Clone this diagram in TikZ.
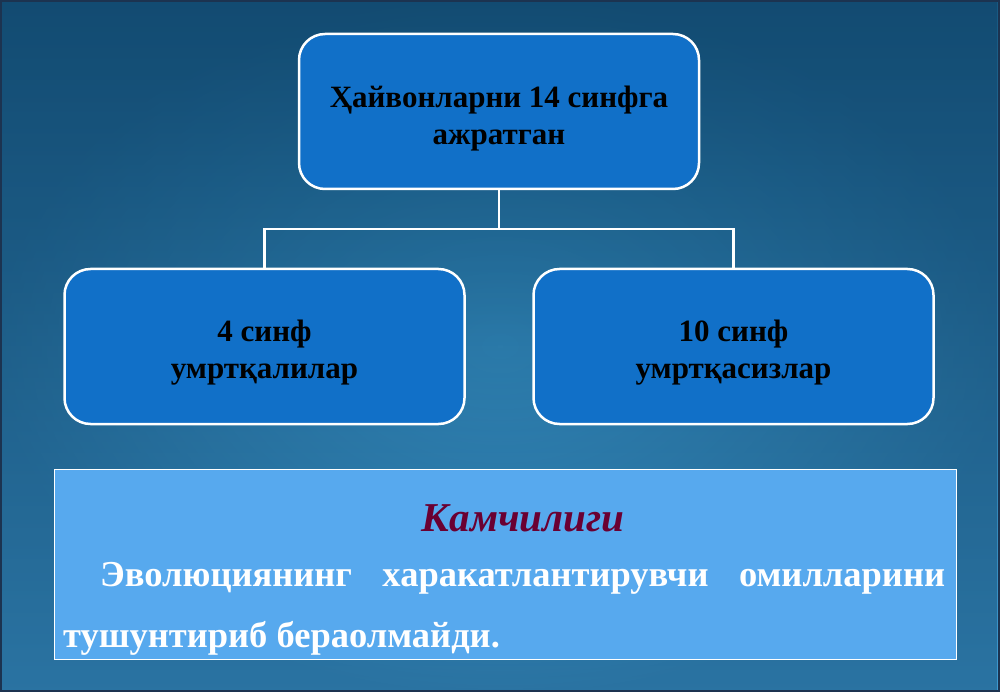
\documentclass[tikz,border=0pt]{standalone}
\usepackage{fontspec}
\setmainfont{Liberation Serif}
\usetikzlibrary{fadings}
\definecolor{bgtop}{HTML}{175982}
\definecolor{bgmid}{HTML}{2878A6}
\definecolor{bgbot}{HTML}{3E9AD0}
\definecolor{bgdark}{HTML}{0B3558}
\definecolor{framecol}{HTML}{1C3350}
\definecolor{boxblue}{HTML}{1170C8}
\definecolor{noteblue}{HTML}{57A9EE}
\definecolor{maroon}{HTML}{6A0032}
\tikzfading[name=vign, inner color=transparent!100, outer color=transparent!62]
\tikzset{
  box/.style={draw=white, line width=2.5pt, fill=boxblue, rounded corners=26pt,
    minimum width=400pt, minimum height=155pt, inner sep=0pt,
    font=\bfseries\fontsize{31}{37}\selectfont, align=center, text=black},
  conn/.style={draw=white, line width=2.5pt},
  note/.style={draw=white, line width=1pt, fill=noteblue, minimum width=902pt,
    minimum height=190pt, inner sep=0pt},
  ttl/.style={font=\bfseries\itshape\fontsize{41}{44}\selectfont, text=maroon, inner sep=0pt},
  body/.style={font=\bfseries\fontsize{36.5}{40}\selectfont, text=white, inner sep=0pt}
}
\begin{document}
\begin{tikzpicture}[x=1pt,y=-1pt]
\useasboundingbox (0,0) rectangle (1000,692);
\shade[top color=bgtop, middle color=bgmid, bottom color=bgbot] (0,0) rectangle (1000,692);
\fill[bgdark, path fading=vign, fit fading=true] (0,0) rectangle (1000,692);
\draw[framecol, line width=2pt] (1,1) rectangle (999,691);

\node[box] (top) at (499,111.5) {\rule{0pt}{36pt}Ҳайвонларни 14 синфга\\ажратган};
\node[box] (left) at (264.5,346.5) {\rule{0pt}{34pt}4 синф\\умртқалилар};
\node[box] (right) at (733.5,346.5) {\rule{0pt}{34pt}10 синф\\умртқасизлар};

\coordinate (bus) at (499,229);
\draw[conn] (top.south) -- (bus);
\draw[conn] (bus) -| (left.north);
\draw[conn] (bus) -| (right.north);

\node[note] (note) at (505.5,564.5) {};
\node[ttl, anchor=base] (ttl) at (523,531) {Камчилиги};
\node[body, anchor=base west] (l1) at (100,586) {\makebox[845pt][s]{Эволюциянинг\hfill харакатлантирувчи\hfill омилларини}};
\node[body, anchor=base west] (l2) at (63,647) {тушунтириб бераолмайди.};
\end{tikzpicture}
\end{document}
